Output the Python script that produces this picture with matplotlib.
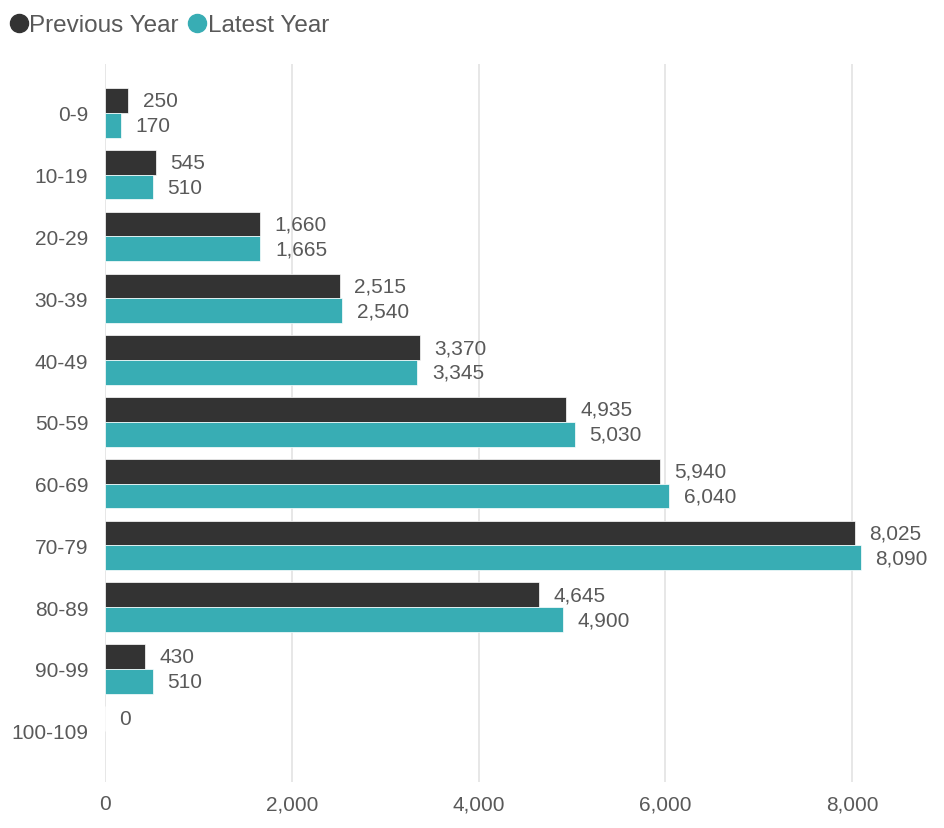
import numpy as np
import matplotlib
matplotlib.use("Agg")
import matplotlib.pyplot as plt
from matplotlib.lines import Line2D

plt.rcParams['font.family'] = ['Liberation Sans', 'DejaVu Sans']

categories = ['0-9', '10-19', '20-29', '30-39', '40-49', '50-59',
              '60-69', '70-79', '80-89', '90-99', '100-109']
previous_year = [250, 545, 1660, 2515, 3370, 4935, 5940, 8025, 4645, 430, 0]
latest_year = [170, 510, 1665, 2540, 3345, 5030, 6040, 8090, 4900, 510, None]

dark = '#333333'
teal = '#38adb4'
txt = '#595959'

fig = plt.figure(figsize=(9.45, 8.29), dpi=100)
ax = fig.add_axes([0.111, 0.0555, 0.873, 0.866])

y = np.arange(len(categories))
h = 0.4

for i, (p, l) in enumerate(zip(previous_year, latest_year)):
    if p is not None:
        ax.barh(y[i] - h / 2, p, height=h, color=dark, edgecolor='white', linewidth=0.5, zorder=3)
        ax.annotate(f'{p:,}', (p, y[i] - h / 2), xytext=(10.5, 0), textcoords='offset points',
                    ha='left', va='center', fontsize=15, color=txt)
    if l is not None:
        ax.barh(y[i] + h / 2, l, height=h, color=teal, edgecolor='white', linewidth=0.5, zorder=3)
        ax.annotate(f'{l:,}', (l, y[i] + h / 2), xytext=(10.5, 0), textcoords='offset points',
                    ha='left', va='center', fontsize=15, color=txt)

ax.set_xlim(0, 8830)
ax.set_ylim(10.83, -0.79)
ax.set_yticks(y)
ax.set_yticklabels(categories)
ax.set_xticks([0, 2000, 4000, 6000, 8000])
ax.set_xticklabels([f'{v:,}' for v in [0, 2000, 4000, 6000, 8000]])
ax.tick_params(axis='both', length=0, labelsize=15, labelcolor=txt)
ax.tick_params(axis='y', pad=12)
ax.tick_params(axis='x', pad=9)
ax.grid(axis='x', color='#e3e3e3', linewidth=1.2, zorder=0)
for s in ax.spines.values():
    s.set_visible(False)

handles = [Line2D([], [], marker='o', linestyle='', markersize=13, color=dark),
           Line2D([], [], marker='o', linestyle='', markersize=13, color=teal)]
fig.legend(handles, ['Previous Year', 'Latest Year'], loc='upper left',
           bbox_to_anchor=(-0.019, 1.008), ncol=2, frameon=False, fontsize=17.5,
           handletextpad=-0.15, columnspacing=0.15, labelcolor=txt, handlelength=1.2)

fig.savefig('out.png', dpi=100)
